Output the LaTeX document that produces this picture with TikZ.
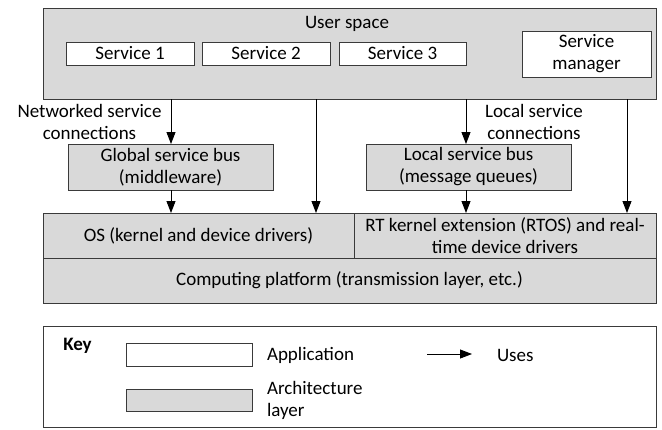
\documentclass[tikz,border=0pt]{standalone}
\usepackage{fontspec}
\setmainfont{Carlito}
\usetikzlibrary{arrows.meta}
\definecolor{layfill}{HTML}{D9D9D9}
\definecolor{edge}{HTML}{3A3A3A}
\begin{document}
\begin{tikzpicture}[x=1pt,y=-1pt,
  every node/.style={font=\fontsize{19}{22}\selectfont, text=black},
  lay/.style={draw=edge, line width=1pt, fill=layfill, inner sep=0pt, outer sep=0pt, anchor=north west, align=center},
  app/.style={lay, fill=white},
  arr/.style={draw=black, line width=0.9pt, -{Triangle[length=12pt,width=9pt]}},
  txt/.style={inner sep=0pt, outer sep=0pt}
]
\useasboundingbox (0,0) rectangle (662,429);

% user space
\node[lay, minimum width=613pt, minimum height=91pt] (us) at (43,8) {};
\node[txt] (ustext) at (347,24) {User space};
\node[app, minimum width=128pt, minimum height=23pt] (s1) at (66,42) {Service 1};
\node[app, minimum width=128pt, minimum height=23pt] (s2) at (202,42) {Service 2};
\node[app, minimum width=127pt, minimum height=23pt] (s3) at (339,42) {Service 3};
\node[app, minimum width=129pt, minimum height=46pt] (sm) at (522,31) {Service\\manager};

% buses
\node[lay, minimum width=205pt, minimum height=46pt] (gsb) at (68,144) {Global service bus\\(middleware)};
\node[lay, minimum width=205pt, minimum height=46pt] (lsb) at (366,144) {Local service bus\\(message queues)};

% OS layers
\node[lay, minimum width=311pt, minimum height=45pt] (os) at (43,213) {OS (kernel and device drivers)};
\node[lay, minimum width=302pt, minimum height=45pt] (rt) at (354,213) {RT kernel extension (RTOS) and real-\\time device drivers};
\node[lay, minimum width=613pt, minimum height=45pt] (cp) at (43,258) {Computing platform (transmission layer, etc.)};

% labels
\node[txt, align=center] (netlab) at (89.5,122) {Networked service\\connections};
\node[txt, align=center] (loclab) at (534,122) {Local service\\connections};

% arrows
\coordinate (c1) at (171,0);
\coordinate (c2) at (316,0);
\coordinate (c3) at (466,0);
\coordinate (c4) at (627,0);
\draw[arr] (c1 |- us.south) -- (c1 |- gsb.north);
\draw[arr] (c1 |- gsb.south) -- (c1 |- os.north);
\draw[arr] (c2 |- us.south) -- (c2 |- os.north);
\draw[arr] (c3 |- us.south) -- (c3 |- lsb.north);
\draw[arr] (c3 |- lsb.south) -- (c3 |- rt.north);
\draw[arr] (c4 |- us.south) -- (c4 |- rt.north);

% key
\node[lay, fill=white, minimum width=613pt, minimum height=101pt] (key) at (43,326.5) {};
\node[txt, font=\fontsize{19}{22}\selectfont\bfseries] (keytext) at (77.5,346) {Key};
\node[app, minimum width=126pt, minimum height=23pt] (kapp) at (126,343) {};
\node[txt, anchor=west] (kapptext) at (267,355) {Application};
\node[lay, minimum width=126pt, minimum height=22pt] (karch) at (126,389) {};
\node[txt, anchor=west, align=left] (karchtext) at (267,400) {Architecture\\layer};
\coordinate (k1) at (427,354);
\coordinate (k2) at (472,354);
\draw[arr] (k1) -- (k2);
\node[txt, anchor=west] (usestext) at (497,355) {Uses};
\end{tikzpicture}
\end{document}
